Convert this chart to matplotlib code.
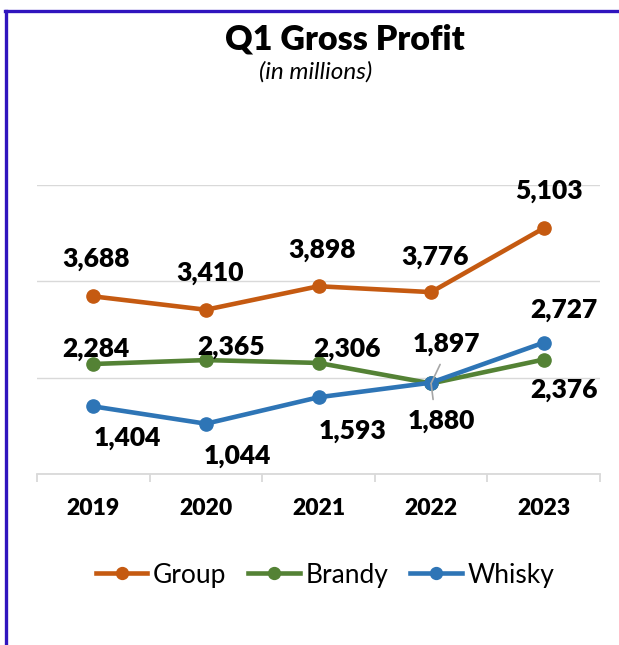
import matplotlib
matplotlib.use("Agg")
import matplotlib.pyplot as plt
from matplotlib.lines import Line2D

plt.rcParams['font.family'] = ['Lato', 'DejaVu Sans']

years = ['2019', '2020', '2021', '2022', '2023']
group = [3688, 3410, 3898, 3776, 5103]
brandy = [2284, 2365, 2306, 1880, 2376]
whisky = [1404, 1044, 1593, 1897, 2727]
group_labels = ['3,688', '3,410', '3,898', '3,776', '5,103']
brandy_labels = ['2,284', '2,365', '2,306', '1,897', '2,376']
whisky_labels = ['1,404', '1,044', '1,593', '1,880', '2,727']

c_group = '#C55A11'
c_brandy = '#548235'
c_whisky = '#2E75B6'

fig = plt.figure(figsize=(6.19, 6.45), dpi=100)
ax = fig.add_axes([37 / 619, 1 - 474 / 645, 563 / 619, (474 - 185) / 645])

x = list(range(len(years)))
ax.plot(x, group, color=c_group, lw=3.3, marker='o', ms=9.5, label='Group', zorder=3)
ax.plot(x, brandy, color=c_brandy, lw=3.3, marker='o', ms=9.5, label='Brandy', zorder=3)
ax.plot(x, whisky, color=c_whisky, lw=3.3, marker='o', ms=9.5, label='Whisky', zorder=4)

ax.set_xlim(-0.5, 4.5)
ax.set_ylim(0, 6000)
ax.set_yticks([0, 2000, 4000, 6000])
ax.grid(axis='y', color='#d9d9d9', lw=1)
ax.set_axisbelow(True)
ax.tick_params(axis='y', left=False, labelleft=False)
for s in ['top', 'right', 'left']:
    ax.spines[s].set_visible(False)
ax.spines['bottom'].set_color('#d9d9d9')
ax.spines['bottom'].set_linewidth(1.3)

ax.set_xticks(x)
ax.set_xticklabels(years, fontsize=16.5, fontweight='heavy')
ax.set_xticks([i - 0.5 for i in range(len(years) + 1)], minor=True)
ax.tick_params(axis='x', which='major', length=0, pad=17)
ax.tick_params(axis='x', which='minor', length=6, color='#d9d9d9', width=1.3)

lab_kw = dict(textcoords='offset pixels', ha='center', va='center',
              fontsize=19, fontweight='heavy', color='black', zorder=5)

g_off = [(3, 37), (4, 37), (4, 36), (4, 35), (5, 37)]
b_off = [(3, 15), (25, 13), (28, 14), (15, 39), (20, -30)]
w_off = [(34, -32), (31, -32), (34, -34), (10, -38), (20, 33)]

for i in x:
    ax.annotate(group_labels[i], (i, group[i]), xytext=g_off[i], **lab_kw)
    ax.annotate(whisky_labels[i], (i, whisky[i]), xytext=w_off[i], **lab_kw)
    ax.annotate(brandy_labels[i], (i, brandy[i]), xytext=b_off[i], **lab_kw)

# leader line for the crowded 2022 label
lead_kw = dict(textcoords='offset pixels', zorder=6,
               arrowprops=dict(arrowstyle='-', color='#a6a6a6', lw=1.2,
                               shrinkA=0, shrinkB=0))
ax.annotate('', xy=(3, brandy[3]), xytext=(9, 19), **lead_kw)
ax.annotate('', xy=(3, brandy[3]), xytext=(2, -16), **lead_kw)

fig.text(345 / 619, 1 - 40 / 645, 'Q1 Gross Profit', ha='center', va='center',
         fontsize=24.5, fontweight='heavy')
fig.text(316 / 619, 1 - 72 / 645, '(in millions)', ha='center', va='center',
         fontsize=17.5, style='italic')

fig.legend(loc='center', bbox_to_anchor=(325 / 619, 1 - 575 / 645), ncol=3,
           frameon=False, fontsize=19, handlelength=1.95, columnspacing=0.85,
           handletextpad=0.2, markerscale=0.9)

fig.add_artist(Line2D([5 / 619, 1], [1 - 11 / 645, 1 - 11 / 645], color='#3015BE',
                      lw=2.4, transform=fig.transFigure))
fig.add_artist(Line2D([6 / 619, 6 / 619], [0, 1 - 11 / 645], color='#3015BE',
                      lw=2.4, transform=fig.transFigure))

fig.savefig('out.png', dpi=100)
